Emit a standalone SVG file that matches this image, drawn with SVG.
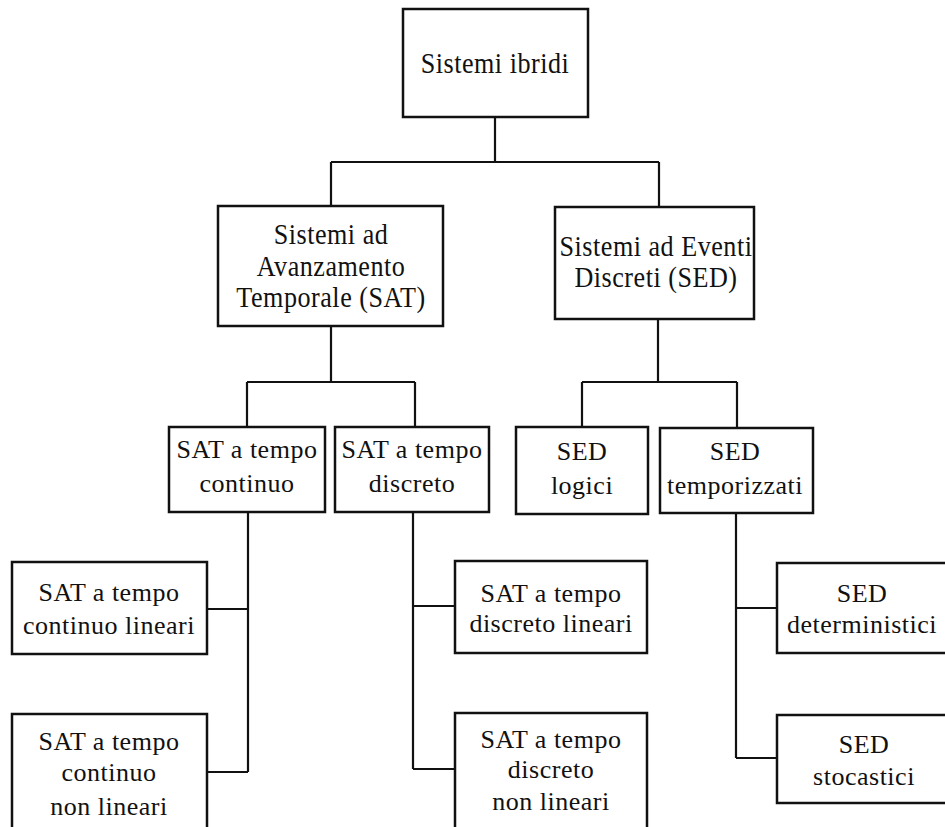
<svg xmlns="http://www.w3.org/2000/svg" width="945" height="827" viewBox="0 0 945 827">
<style>
.box{fill:#fff;stroke:#111;stroke-width:2.5}
.ln{fill:none;stroke:#111;stroke-width:2.2}
.big{font-family:"Liberation Serif","Times New Roman",serif;font-size:30px;fill:#111;text-anchor:middle;letter-spacing:0.6px}
.sm{font-family:"Liberation Serif","Times New Roman",serif;font-size:26px;fill:#111;text-anchor:middle;letter-spacing:0.5px}
</style>
<rect width="945" height="827" fill="#fff"/>
<g id="connectors">
<path class="ln" d="M495 117V162M331 162H659M331 162V207M659 162V207"/>
<path class="ln" d="M331 326V382M247 382H415M247 382V427M415 382V427"/>
<path class="ln" d="M658 319V382M582 382H737M582 382V427M737 382V428"/>
<path class="ln" d="M248 512V772M207 609H248M207 772H248"/>
<path class="ln" d="M413 512V769M413 606H455M413 769H455"/>
<path class="ln" d="M736 513V758M736 608H777M736 758H777"/>
</g>
<g id="n-ibridi">
<rect class="box" x="403" y="9" width="185" height="108"/>
<g transform="translate(495,0) scale(0.87,1)"><text class="big" x="0" y="73">Sistemi ibridi</text></g>
</g>
<g id="n-sat">
<rect class="box" x="218" y="206" width="225" height="120"/>
<g transform="translate(331,0) scale(0.87,1)"><text class="big" x="0" y="244">Sistemi ad</text><text class="big" x="0" y="276">Avanzamento</text><text class="big" x="0" y="307">Temporale (SAT)</text></g>
</g>
<g id="n-sed">
<rect class="box" x="555" y="207" width="199" height="112"/>
<g transform="translate(656,0) scale(0.87,1)"><text class="big" x="0" y="256">Sistemi ad Eventi</text><text class="big" x="0" y="287">Discreti (SED)</text></g>
</g>
<g id="n-sat-cont">
<rect class="box" x="169" y="427" width="156" height="85"/>
<text class="sm" x="247" y="458">SAT a tempo</text><text class="sm" x="247" y="492">continuo</text>
</g>
<g id="n-sat-disc">
<rect class="box" x="335" y="427" width="154" height="85"/>
<text class="sm" x="412" y="458">SAT a tempo</text><text class="sm" x="412" y="492">discreto</text>
</g>
<g id="n-sed-log">
<rect class="box" x="516" y="427" width="132" height="87"/>
<text class="sm" x="582" y="460">SED</text><text class="sm" x="582" y="494">logici</text>
</g>
<g id="n-sed-temp">
<rect class="box" x="660" y="428" width="153" height="85"/>
<text class="sm" x="735" y="460">SED</text><text class="sm" x="735" y="494">temporizzati</text>
</g>
<g id="n-sat-cont-lin">
<rect class="box" x="12" y="562" width="195" height="92"/>
<text class="sm" x="109" y="601">SAT  a tempo</text><text class="sm" x="109" y="634">continuo lineari</text>
</g>
<g id="n-sat-cont-nonlin">
<rect class="box" x="12" y="714" width="195" height="130"/>
<text class="sm" x="109" y="750">SAT a tempo</text><text class="sm" x="109" y="781">continuo</text><text class="sm" x="109" y="815">non lineari</text>
</g>
<g id="n-sat-disc-lin">
<rect class="box" x="455" y="561" width="192" height="92"/>
<text class="sm" x="551" y="602">SAT  a tempo</text><text class="sm" x="551" y="632">discreto lineari</text>
</g>
<g id="n-sat-disc-nonlin">
<rect class="box" x="455" y="713" width="192" height="130"/>
<text class="sm" x="551" y="748">SAT a tempo</text><text class="sm" x="551" y="778">discreto</text><text class="sm" x="551" y="810">non lineari</text>
</g>
<g id="n-sed-det">
<rect class="box" x="777" y="563" width="180" height="90"/>
<text class="sm" x="862" y="602">SED</text><text class="sm" x="862" y="633">deterministici</text>
</g>
<g id="n-sed-sto">
<rect class="box" x="777" y="715" width="180" height="88"/>
<text class="sm" x="864" y="753">SED</text><text class="sm" x="864" y="785">stocastici</text>
</g>
</svg>
